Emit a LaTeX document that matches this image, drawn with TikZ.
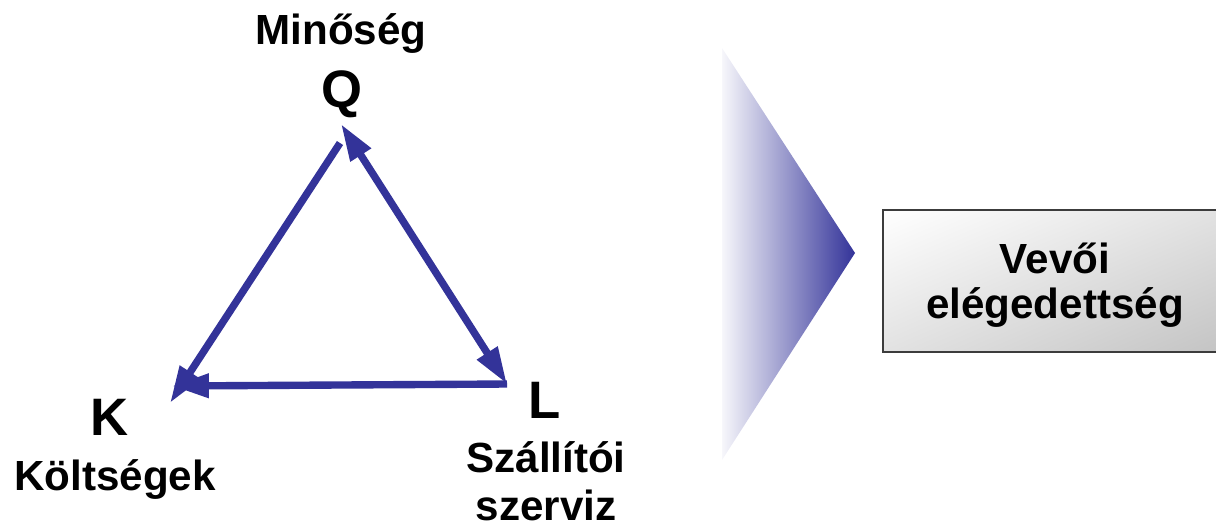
\documentclass[tikz,border=0pt]{standalone}
\usepackage{fontspec}
\setmainfont{Liberation Sans}
\usetikzlibrary{arrows.meta,shadings}
\definecolor{triCol}{HTML}{333399}
\definecolor{boxEdge}{HTML}{3C3C3C}
\definecolor{boxLow}{HTML}{C4C4C4}
\definecolor{boxMid}{HTML}{E2E2E2}
\tikzset{
  corner/.style={font=\fontsize{30}{34}\selectfont\bfseries, inner sep=0pt},
  lbl/.style={font=\fontsize{24}{27.3}\selectfont\bfseries, inner sep=0pt, align=center},
  side/.style={draw=triCol, line width=4.2pt},
  tip/.style={-{Triangle[length=21pt,width=13pt]}},
  sat/.style={draw=boxEdge, line width=1.1pt, upper left=white, upper right=boxMid,
        lower left=boxMid, lower right=boxLow, minimum width=192pt, minimum height=81pt},
}
\begin{document}
\begin{tikzpicture}[x=0.02cm,y=-0.02cm]
  \useasboundingbox (0,0) rectangle (1216,525);
  % --- QKL triangle labels ---
  \node[lbl, anchor=base] (minoseg) at (341,44) {Minőség};
  \node[corner, anchor=base] (q) at (342,107) {Q};
  \node[corner, anchor=base] (k) at (110,435) {K};
  \node[lbl, anchor=base] (koltseg) at (115,490) {Költségek};
  \node[corner, anchor=base] (l) at (545,418) {L};
  \node[lbl, anchor=base] (szall) at (546,520) {Szállítói\\szerviz};
  % corners of the triangle
  \coordinate (qTip) at (341,124);
  \coordinate (qFoot) at (340,143);
  \coordinate (lTip) at (507,384);
  \coordinate (kSide) at (170,403);
  \coordinate (kBase) at (172,386);
  % --- sides ---
  \draw[side,tip] (qFoot) -- (kSide);
  \draw[side,tip] (lTip) -- (kBase);
  \draw[side,{Triangle[length=21pt,width=13pt]}-{Triangle[length=21pt,width=13pt]}] (qTip) -- (lTip);
  % --- chevron + result box ---
  \shade[left color=triCol!4, right color=triCol] (722,48) -- (855,253) -- (722,460) -- cycle;
  \node[sat] (satBox) at (1052,281) {};
  \node[lbl, anchor=base, font=\fontsize{24}{25.6}\selectfont\bfseries] (vevo) at (1055,318)
       {Vevői\\elégedettség};
\end{tikzpicture}
\end{document}
